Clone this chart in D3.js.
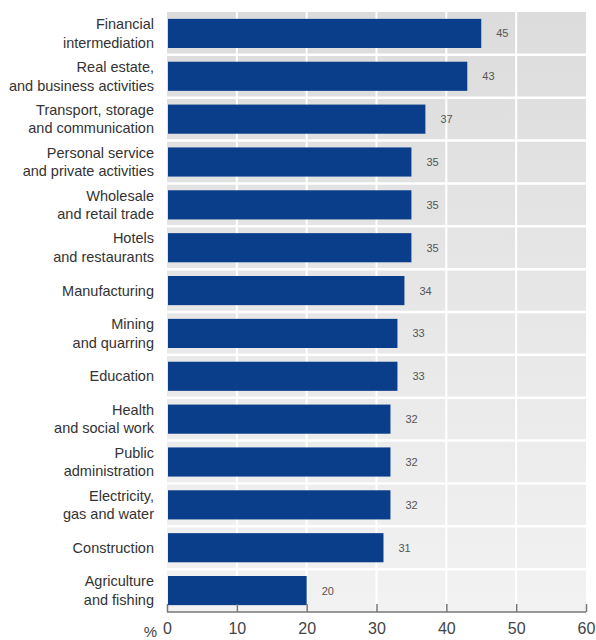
<!DOCTYPE html>
<html>
<head>
<meta charset="utf-8">
<script src="https://cdn.jsdelivr.net/npm/d3@7/dist/d3.min.js"></script>
<style>
  html, body { margin: 0; padding: 0; background: #fff; }
  svg { display: block; }
</style>
</head>
<body>
<svg id="chart" width="596" height="640"></svg>
<script>
const categories = [
  ["Financial", "intermediation"],
  ["Real estate,", "and business activities"],
  ["Transport, storage", "and communication"],
  ["Personal service", "and private activities"],
  ["Wholesale", "and retail trade"],
  ["Hotels", "and restaurants"],
  ["Manufacturing"],
  ["Mining", "and quarring"],
  ["Education"],
  ["Health", "and social work"],
  ["Public", "administration"],
  ["Electricity,", "gas and water"],
  ["Construction"],
  ["Agriculture", "and fishing"]
];
const values = [45, 43, 37, 35, 35, 35, 34, 33, 33, 32, 32, 32, 31, 20];
const xTicks = [0, 10, 20, 30, 40, 50, 60];
const axisUnit = "%";

const svg = d3.select("#chart");
const top0 = 12, bottom0 = 612;
const x = d3.scaleLinear().domain([0, 60]).range([167, 586]);
const y = d3.scaleBand()
  .domain(d3.range(categories.length))
  .range([top0, bottom0])
  .paddingInner(0.32)
  .paddingOuter(0.16);

const font = "'Liberation Sans', Arial, sans-serif";

// background gradient
const defs = svg.append("defs");
const grad = defs.append("linearGradient").attr("id", "bg").attr("x1", 0).attr("y1", 0).attr("x2", 0).attr("y2", 1);
grad.append("stop").attr("offset", "0%").attr("stop-color", "#dcdcdc");
grad.append("stop").attr("offset", "100%").attr("stop-color", "#f2f2f2");

svg.append("rect")
  .attr("x", x(0)).attr("y", top0)
  .attr("width", x(60) - x(0)).attr("height", bottom0 - top0)
  .attr("fill", "url(#bg)");

// vertical white gridlines
svg.append("g").selectAll("line")
  .data(xTicks.filter(d => d > 0 && d < 60))
  .join("line")
  .attr("x1", d => x(d)).attr("x2", d => x(d))
  .attr("y1", top0).attr("y2", bottom0)
  .attr("stroke", "#fff").attr("stroke-width", 2);

// horizontal white separators at row boundaries
const step = y.step();
svg.append("g").selectAll("line")
  .data(d3.range(1, categories.length))
  .join("line")
  .attr("x1", x(0)).attr("x2", x(60))
  .attr("y1", d => top0 + d * step).attr("y2", d => top0 + d * step)
  .attr("stroke", "#fff").attr("stroke-width", 2.5);

// bars
svg.append("g").selectAll("rect")
  .data(values)
  .join("rect")
  .attr("x", x(0) + 1)
  .attr("y", (d, i) => y(i))
  .attr("width", d => x(d) - x(0) - 1)
  .attr("height", y.bandwidth())
  .attr("fill", "#0b3e8a");

// value labels
svg.append("g").selectAll("text")
  .data(values)
  .join("text")
  .attr("x", d => x(d) + 15)
  .attr("y", (d, i) => y(i) + y.bandwidth() / 2 + 4)
  .attr("font-family", font)
  .attr("font-size", 11)
  .attr("fill", "#555")
  .text(d => d);

// category labels
const lab = svg.append("g");
categories.forEach((lines, i) => {
  const cy = y(i) + y.bandwidth() / 2;
  const lh = 18.5;
  const t = lab.append("text")
    .attr("text-anchor", "end")
    .attr("font-family", font)
    .attr("font-size", 14.5)
    .attr("fill", "#333");
  lines.forEach((ln, j) => {
    t.append("tspan")
      .attr("x", 154)
      .attr("y", cy + 5 + (j - (lines.length - 1) / 2) * lh)
      .text(ln);
  });
});

// x axis
const axis = d3.axisBottom(x).tickValues(xTicks).tickSize(-8).tickPadding(11).tickFormat(d3.format("d"));
const ag = svg.append("g").attr("transform", `translate(0,${bottom0})`).call(axis);
ag.select(".domain").attr("stroke", "#777").attr("stroke-width", 1.5).attr("d", `M${x(0)},0H${x(60)}`);
ag.selectAll(".tick line").attr("stroke", "#777").attr("stroke-width", 1.5);
ag.selectAll(".tick text")
  .attr("font-family", font)
  .attr("font-size", 16)
  .attr("fill", "#444");

svg.append("text")
  .attr("x", 157).attr("y", 637)
  .attr("text-anchor", "end")
  .attr("font-family", font)
  .attr("font-size", 15)
  .attr("fill", "#444")
  .text(axisUnit);
</script>
</body>
</html>
